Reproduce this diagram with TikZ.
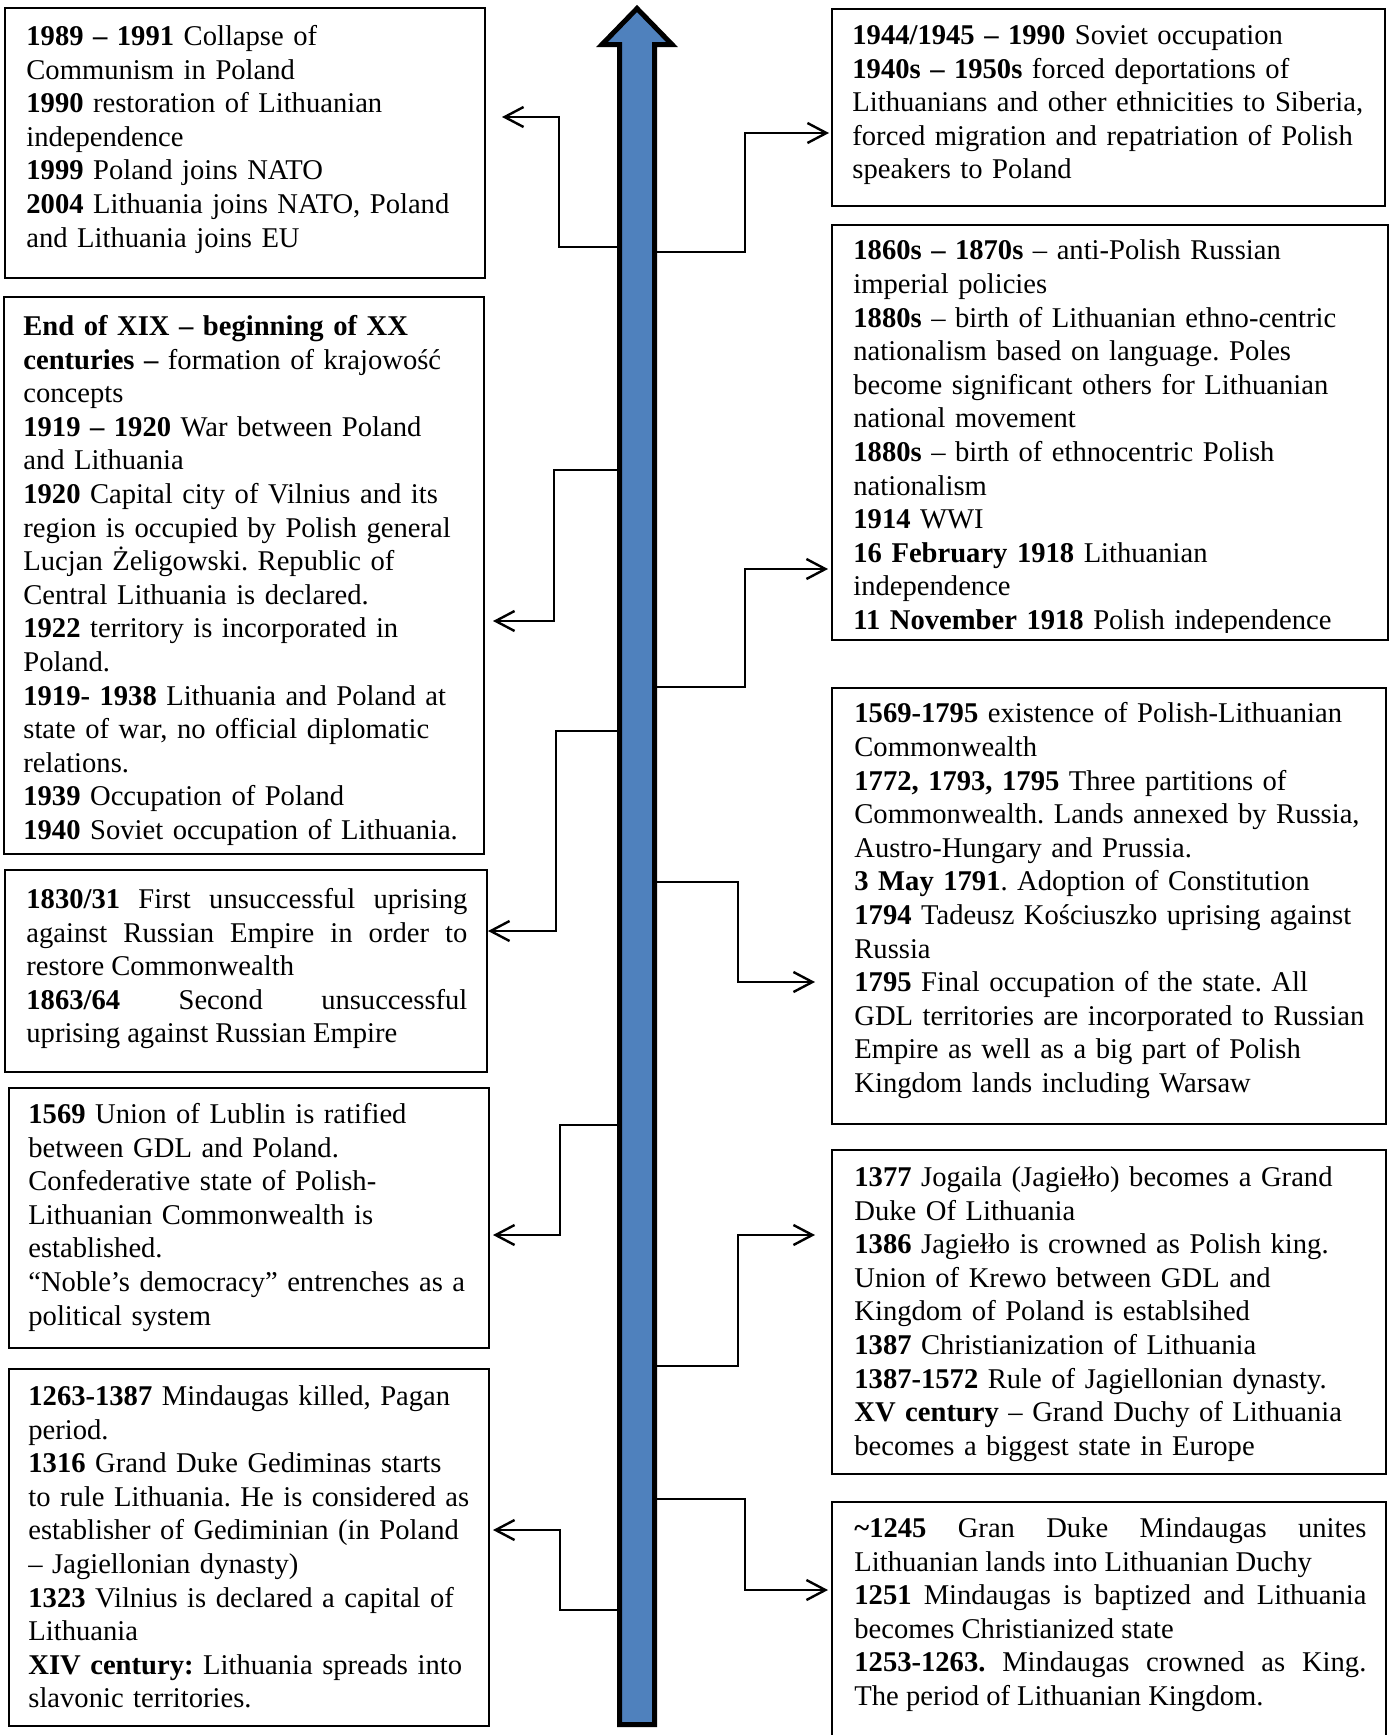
\documentclass[tikz,border=0pt]{standalone}
\usepackage{fontspec}
\setmainfont{Liberation Serif}
\usetikzlibrary{arrows.meta}
\usetikzlibrary{fit}
\definecolor{shaftblue}{HTML}{4F81BD}
\newcommand{\evfont}{\fontsize{14.3}{16.8}\selectfont}
\frenchspacing
\tolerance=9999
\hyphenpenalty=10000
\exhyphenpenalty=10000

\begin{document}
\begin{tikzpicture}[x=0.5pt, y=-0.5pt, every node/.style={font=\evfont},
    evbox/.style={draw, line width=0.55pt, inner sep=0pt},
    evtext/.style={anchor=north west, inner sep=0pt, align=left, text width=285pt},
    evjust/.style={anchor=north west, inner sep=0pt, align=justify},
    link/.style={line width=1.2pt, -{Straight Barb[length=9.5pt,width=10pt]}}]
  \useasboundingbox (0,0) rectangle (1392,1735);

  % timeline arrow
  \filldraw[fill=shaftblue, line width=2.5pt, miter limit=10]
    (619.5,1724.5) -- (619.5,44.5) -- (602,44.5) -- (637,8.5)
    -- (672,44.5) -- (654.5,44.5) -- (654.5,1724.5) -- cycle;

  % boxes
  \node[evbox, fit={(5,8) (485,278)}] (L1) {};
  \node[evbox, fit={(4,297) (484,854)}] (L2) {};
  \node[evbox, fit={(5,870) (487,1072)}] (L3) {};
  \node[evbox, fit={(9,1088) (489,1348)}] (L4) {};
  \node[evbox, fit={(9,1369) (489,1726)}] (L5) {};
  \node[evbox, fit={(832,9) (1385,206)}] (R1) {};
  \node[evbox, fit={(832,225) (1388,640)}] (R2) {};
  \node[evbox, fit={(832,688) (1386,1124)}] (R3) {};
  \node[evbox, fit={(832,1150) (1386,1474)}] (R4) {};
  \node[evbox, fit={(832,1502) (1386,1750)}] (R5) {};

  % texts, left side
  \node[evtext] (tL1) at (26,21.5) {\strut\textbf{1989 – 1991} Collapse of\\
    Communism in Poland\\
    \textbf{1990} restoration of Lithuanian\\
    independence\\
    \textbf{1999} Poland joins NATO\\
    \textbf{2004} Lithuania joins NATO, Poland\\
    and Lithuania joins EU};
  \node[evtext] (tL2) at (23,311.5) {\strut\textbf{End of XIX – beginning of XX}\\
    \textbf{centuries –} formation of krajowość\\
    concepts\\
    \textbf{1919 – 1920} War between Poland\\
    and Lithuania\\
    \textbf{1920} Capital city of Vilnius and its\\
    region is occupied by Polish general\\
    Lucjan Żeligowski. Republic of\\
    Central Lithuania is declared.\\
    \textbf{1922} territory is incorporated in\\
    Poland.\\
    \textbf{1919- 1938} Lithuania and Poland at\\
    state of war, no official diplomatic\\
    relations.\\
    \textbf{1939} Occupation of Poland\\
    \textbf{1940} Soviet occupation of Lithuania.};
  \node[evjust, text width=220.5pt] (tL3) at (26,884.5) {\strut\textbf{1830/31} First unsuccessful uprising\linebreak
    against Russian Empire in order to\linebreak
    restore Commonwealth\par
    \textbf{1863/64} Second unsuccessful\linebreak
    uprising against Russian Empire};
  \node[evtext] (tL4) at (28,1099.5) {\strut\textbf{1569} Union of Lublin is ratified\\
    between GDL and Poland.\\
    Confederative state of Polish-\\
    Lithuanian Commonwealth is\\
    established.\\
    “Noble’s democracy” entrenches as a\\
    political system};
  \node[evtext] (tL5) at (28,1381.5) {\strut\textbf{1263-1387} Mindaugas killed, Pagan\\
    period.\\
    \textbf{1316} Grand Duke Gediminas starts\\
    to rule Lithuania. He is considered as\\
    establisher of Gediminian (in Poland\\
    – Jagiellonian dynasty)\\
    \textbf{1323} Vilnius is declared a capital of\\
    Lithuania\\
    \textbf{XIV century:} Lithuania spreads into\\
    slavonic territories.};

  % texts, right side
  \node[evtext] (tR1) at (852,20.5) {\strut\textbf{1944/1945 – 1990} Soviet occupation\\
    \textbf{1940s – 1950s} forced deportations of\\
    Lithuanians and other ethnicities to Siberia,\\
    forced migration and repatriation of Polish\\
    speakers to Poland};
  \begin{scope}
    \clip (832,225) rectangle (1388,632);
    \node[evtext] (tR2) at (853,236) {\strut\textbf{1860s – 1870s} – anti-Polish Russian\\
      imperial policies\\
      \textbf{1880s} – birth of Lithuanian ethno-centric\\
      nationalism based on language. Poles\\
      become significant others for Lithuanian\\
      national movement\\
      \textbf{1880s} – birth of ethnocentric Polish\\
      nationalism\\
      \textbf{1914} WWI\\
      \textbf{16 February 1918} Lithuanian\\
      independence\\
      \textbf{11 November 1918} Polish independence};
  \end{scope}
  \node[evtext] (tR3) at (854,699) {\strut\textbf{1569-1795} existence of Polish-Lithuanian\\
    Commonwealth\\
    \textbf{1772, 1793, 1795} Three partitions of\\
    Commonwealth. Lands annexed by Russia,\\
    Austro-Hungary and Prussia.\\
    \textbf{3 May 1791}. Adoption of Constitution\\
    \textbf{1794} Tadeusz Kościuszko uprising against\\
    Russia\\
    \textbf{1795} Final occupation of the state. All\\
    GDL territories are incorporated to Russian\\
    Empire as well as a big part of Polish\\
    Kingdom lands including Warsaw};
  \node[evtext] (tR4) at (854,1162.5) {\strut\textbf{1377} Jogaila (Jagiełło) becomes a Grand\\
    Duke Of Lithuania\\
    \textbf{1386} Jagiełło is crowned as Polish king.\\
    Union of Krewo between GDL and\\
    Kingdom of Poland is establsihed\\
    \textbf{1387} Christianization of Lithuania\\
    \textbf{1387-1572} Rule of Jagiellonian dynasty.\\
    \textbf{XV century} – Grand Duchy of Lithuania\\
    becomes a biggest state in Europe};
  \node[evjust, text width=256pt] (tR5) at (854,1513.5) {\strut\textbf{\textasciitilde1245} Gran Duke Mindaugas unites\linebreak
    Lithuanian lands into Lithuanian Duchy\par
    \textbf{1251} Mindaugas is baptized and Lithuania\linebreak
    becomes Christianized state\par
    \textbf{1253-1263.} Mindaugas crowned as King.\linebreak
    The period of Lithuanian Kingdom.};

  % connectors: shaft points and arrow ends
  \coordinate (s1) at (617,247);   \coordinate (e1) at (502,117);
  \coordinate (s2) at (617,470);   \coordinate (e2) at (493,621);
  \coordinate (s3) at (617,731);   \coordinate (e3) at (488,931);
  \coordinate (s4) at (617,1125);  \coordinate (e4) at (493,1235);
  \coordinate (s5) at (617,1610);  \coordinate (e5) at (493,1530);
  \coordinate (s6) at (657,252);   \coordinate (e6) at (829,133);
  \coordinate (s7) at (657,687);   \coordinate (e7) at (828,569);
  \coordinate (s8) at (657,882);   \coordinate (e8) at (815,982);
  \coordinate (s9) at (657,1366);  \coordinate (e9) at (815,1235);
  \coordinate (s10) at (657,1499); \coordinate (e10) at (828,1590);

  \draw[link] (s1) -- ++(-58,0) |- (e1);
  \draw[link] (s2) -- ++(-63,0) |- (e2);
  \draw[link] (s3) -- ++(-61,0) |- (e3);
  \draw[link] (s4) -- ++(-57,0) |- (e4);
  \draw[link] (s5) -- ++(-57,0) |- (e5);
  \draw[link] (s6) -- ++(88,0) |- (e6);
  \draw[link] (s7) -- ++(88,0) |- (e7);
  \draw[link] (s8) -- ++(81,0) |- (e8);
  \draw[link] (s9) -- ++(81,0) |- (e9);
  \draw[link] (s10) -- ++(88,0) |- (e10);
\end{tikzpicture}
\end{document}
